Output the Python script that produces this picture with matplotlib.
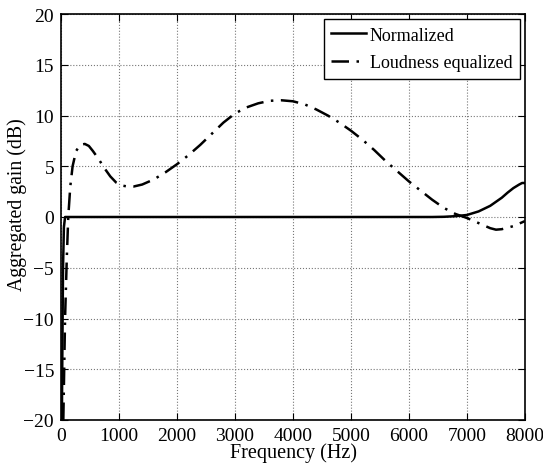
import matplotlib.pyplot as plt

plt.rcParams['font.family'] = ['Liberation Serif', 'DejaVu Serif']
plt.rcParams['mathtext.fontset'] = 'stix'

# Normalized response (Hz, dB)
norm_freq = [15, 25, 35, 50, 70, 1000, 3000, 5000, 6400, 6600, 6800,
             7000, 7200, 7400, 7600, 7700, 7800, 7900, 7950, 8000]
norm_gain = [-20, -12, -5, -1, 0, 0, 0, 0, 0, 0.02, 0.08,
             0.2, 0.55, 1.1, 1.9, 2.4, 2.85, 3.2, 3.35, 3.35]

# Loudness equalized response (Hz, dB)
loud_freq = [40, 70, 100, 125, 160, 200, 260, 330, 410, 480, 550, 650, 750, 850,
             950, 1050, 1150, 1250, 1400, 1600, 1800, 2000, 2200, 2400, 2600,
             2800, 3000, 3200, 3400, 3600, 3800, 4000, 4200, 4400, 4600, 4800,
             5000, 5200, 5400, 5600, 5800, 6000, 6200, 6400, 6600, 6800, 7000,
             7200, 7400, 7500, 7600, 7800, 8000]
loud_gain = [-20, -10, -4, 0, 3, 5, 6.5, 7.1, 7.2, 7.0, 6.5, 5.7, 4.8, 4.0,
             3.4, 3.1, 3.0, 3.0, 3.2, 3.7, 4.4, 5.2, 6.1, 7.1, 8.2,
             9.3, 10.2, 10.8, 11.2, 11.45, 11.5, 11.4, 11.1, 10.6, 10.0, 9.3,
             8.5, 7.6, 6.6, 5.5, 4.5, 3.5, 2.6, 1.7, 0.9, 0.3, -0.1,
             -0.6, -1.1, -1.25, -1.2, -0.9, -0.4]

fig = plt.figure(figsize=(5.43, 4.64), dpi=100)
ax = fig.add_axes([61 / 543, 43 / 464, 464 / 543, 406 / 464])

ax.plot(norm_freq, norm_gain, '-', color='black', linewidth=1.8, label='Normalized')
ax.plot(loud_freq, loud_gain, '-.', color='black', linewidth=1.8,
        label='Loudness equalized', dashes=(7, 3, 1, 3))

ax.set_xlim(0, 8000)
ax.set_ylim(-20, 20)
ax.set_xticks(range(0, 8001, 1000))
ax.set_yticks(range(-20, 21, 5))
ax.grid(True, linestyle=':', color='#777777', linewidth=0.8)
ax.tick_params(direction='in', top=True, right=True, labelsize=14, length=5, pad=5)
for s in ax.spines.values():
    s.set_linewidth(1.2)

ax.set_xlabel('Frequency (Hz)', fontsize=14.5, labelpad=-1)
ax.set_ylabel('Aggregated gain (dB)', fontsize=14.2, va='center')
ax.yaxis.set_label_coords(-0.095, 0.534)

leg = ax.legend(loc='upper right', fontsize=13, fancybox=False, framealpha=1,
                edgecolor='black', handlelength=1.95, borderaxespad=0.3,
                borderpad=0.4, labelspacing=0.6, handletextpad=0.2)
leg.get_frame().set_linewidth(1.0)

fig.savefig('out.png', dpi=100)
